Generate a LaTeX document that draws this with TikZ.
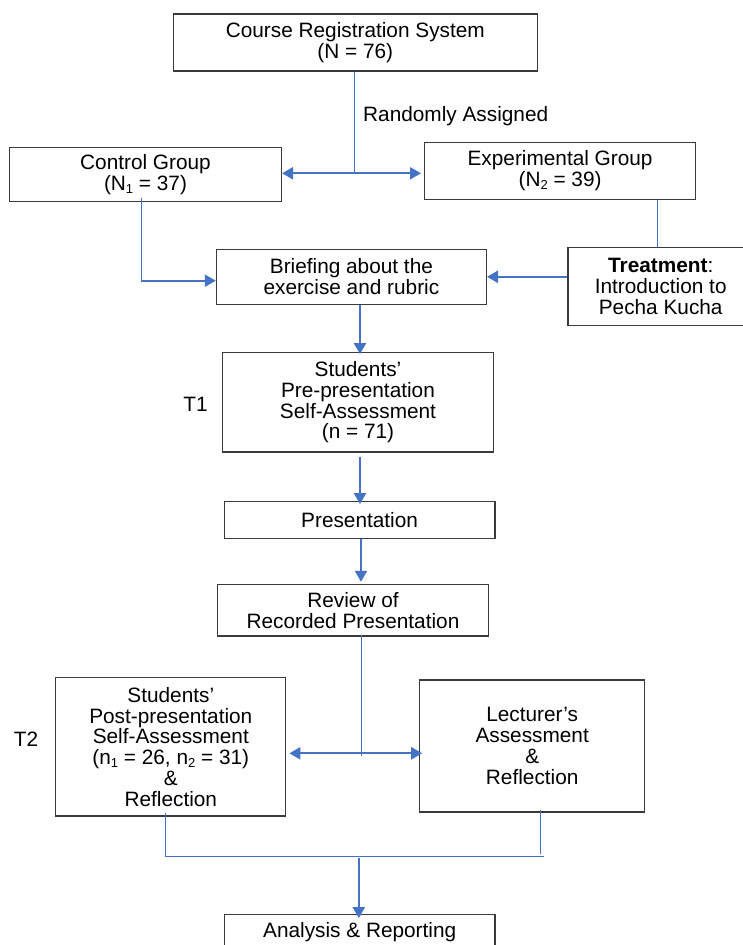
\documentclass[tikz,border=0pt]{standalone}
\usepackage{fontspec}
\setmainfont{Liberation Sans}
\usetikzlibrary{arrows.meta}
\definecolor{flowblue}{HTML}{4472C4}
\definecolor{boxline}{HTML}{3A3A3A}
\newcommand\sbs[1]{\raisebox{-3pt}{\fontsize{13}{13}\selectfont #1}}
\begin{document}
\begin{tikzpicture}[x=1pt,y=-1pt,
  font=\fontsize{20.8}{20.8}\selectfont,
  box/.style={draw=boxline, line width=1.2pt, fill=white, align=center, inner sep=2pt},
  thinline/.style={draw=flowblue, line width=0.9pt},
  arr/.style={draw=flowblue, line width=2.3pt, -{Triangle[length=11pt,width=12pt]}, color=flowblue},
  dblarr/.style={draw=flowblue, line width=2.3pt, {Triangle[length=11pt,width=12pt]}-{Triangle[length=11pt,width=12pt]}, color=flowblue},
  lbl/.style={inner sep=0pt, align=center}]
\useasboundingbox (0,0) rectangle (742,945);

% boxes
\node[box, minimum width=364pt, minimum height=57pt] (crs) at (355.3,42.5) {Course Registration System\\(N = 76)};
\node[lbl, anchor=west] (ra) at (363,116) {Randomly Assigned};
\node[box, minimum width=272pt, minimum height=54.4pt] (ctrl) at (145.5,174.5) {Control Group\\(N\sbs{1} = 37)};
\node[box, minimum width=271pt, minimum height=56.6pt] (exp) at (560.1,171) {Experimental Group\\(N\sbs{2} = 39)};
\node[box, minimum width=270pt, minimum height=55pt] (brief) at (351.4,276.8) {Briefing about the\\exercise and rubric};
\node[box, minimum width=185.4pt, minimum height=78.4pt] (treat) at (660.7,286.5) {\textbf{Treatment}:\\Introduction to\\Pecha Kucha};
\node[box, minimum width=270.6pt, minimum height=99.3pt] (pre) at (358,402.3) {Students’\\Pre-presentation\\Self-Assessment\\(n = 71)};
\node[lbl] (t1) at (195.5,404) {T1};
\node[box, minimum width=270.7pt, minimum height=36.6pt] (pres) at (359.6,520) {Presentation};
\node[box, minimum width=270.6pt, minimum height=51.7pt] (rev) at (353,610.2) {Review of\\Recorded Presentation};
\node[box, minimum width=230pt, minimum height=138.3pt] (post) at (170.8,746.9) {Students’\\Post-presentation\\Self-Assessment\\(n\sbs{1} = 26, n\sbs{2} = 31)\\\&\\Reflection};
\node[lbl] (t2) at (26,739.3) {T2};
\node[box, minimum width=224.8pt, minimum height=132pt] (lect) at (532.2,746) {Lecturer’s\\Assessment\\\&\\Reflection};
\node[box, minimum width=270.7pt, minimum height=34pt] (anal) at (359.7,931.7) {Analysis \& Reporting};

% helper coordinates
\coordinate (j1) at (354.3,173.3);
\coordinate (c1) at (141,280.7);
\coordinate (e1) at (657.8,0);
\coordinate (a1) at (360,0);
\coordinate (a2) at (361,0);
\coordinate (j2) at (361.6,753.3);
\coordinate (p1) at (165,856.7);
\coordinate (l1) at (540.5,856.7);
\coordinate (m1) at (358.8,857.5);

% connectors
\draw[thinline] (crs.south -| j1) -- (j1);
\draw[dblarr] (ctrl.east |- j1) -- ([xshift=-3pt]exp.west |- j1);
\draw[thinline] ([yshift=4pt]ctrl.south -| c1) -- (c1);
\draw[arr] (c1) -- (brief.west |- c1);
\draw[thinline] (exp.south -| e1) -- (treat.north -| e1);
\draw[arr] (treat.west |- brief.east) -- (brief.east);
\draw[arr] (brief.south -| a1) -- ([yshift=-2pt]pre.north -| a1);
\draw[arr] ([yshift=-4pt]pre.south -| a1) -- ([yshift=-3pt]pres.north -| a1);
\draw[arr] (pres.south -| a2) -- ([yshift=2pt]rev.north -| a2);
\draw[thinline] ([yshift=2pt]rev.south -| j2) -- ([yshift=-3pt]j2);
\draw[dblarr] ([xshift=3pt]post.east |- j2) -- ([xshift=3pt]lect.west |- j2);
\draw[thinline] ([yshift=4pt]post.south -| p1) -- (p1) -- ([xshift=3.5pt]l1);
\draw[thinline] ([yshift=3pt]lect.south -| l1) -- ([yshift=2.5pt]l1);
\draw[arr] (m1) -- ([yshift=-4pt]anal.north -| m1);
\end{tikzpicture}
\end{document}
